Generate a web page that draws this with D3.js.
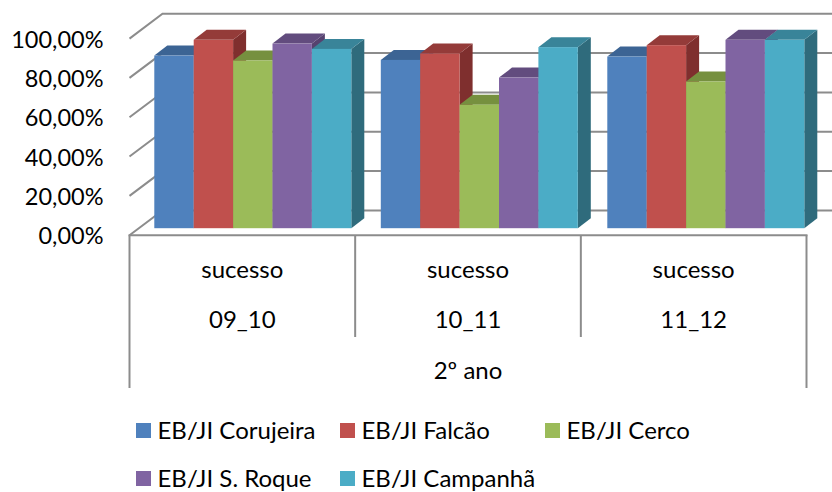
<!DOCTYPE html>
<html><head><meta charset="utf-8">
<script src="https://cdn.jsdelivr.net/npm/d3@7"></script>
<style>html,body{margin:0;padding:0;background:#fff}svg{display:block}text{font-family:Lato,"Open Sans",sans-serif;fill:#000}</style>
</head><body><div id="c"></div>
<script>
const years = ["09_10","10_11","11_12"];
const measure = "sucesso";
const outer = "2º ano";
const series = ["EB/JI Corujeira","EB/JI Falcão","EB/JI Cerco","EB/JI S. Roque","EB/JI Campanhã"];
const corujeira = [87.8,85.6,87.3];
const falcao = [95.8,88.9,93.1];
const cerco = [85.3,62.8,74.6];
const roque = [93.9,76.6,95.8];
const campanha = [91.2,92.1,95.8];
const ticks = [0,20,40,60,80,100];
const colors = ["#4f81bd","#c0504d","#9bbb59","#8064a2","#4bacc6"];
const topColors = ["#3c6494","#943b39","#76903f","#624c7e","#398499"];
const sideColors = ["#345781","#7f2f2e","#66803a","#56426f","#2f6b7c"];

const values = [corujeira,falcao,cerco,roque,campanha];
const W=832,H=492;
const svg=d3.select("#c").append("svg").attr("width",W).attr("height",H);
const FS=24, AXFS=23.5, GRID="#8c8c8c";

// Plot geometry
const y=d3.scaleLinear().domain([0,100]).range([235.2,38.6]);
const x0=d3.scaleBand().domain(years).range([129.5,806.5]);
const wall={dx:33,dy:-24.8};
const bar={dx:13,dy:-10,front:-7};
// bars sit on a slightly wider pitch than the category dividers
const barGroups=d3.scaleBand().domain(years).range([154.3,154.3+3*226.5]);
const barScale=d3.scaleBand().domain(series).range([0,197]);

// walls
const grid=svg.append("g").attr("fill","none").attr("stroke",GRID).attr("stroke-width",2);
ticks.forEach(t=>{
  const yy=y(t);
  grid.append("path").attr("d",`M${x0.range()[0]},${yy}L${x0.range()[0]+wall.dx},${yy+wall.dy}L${W+2},${yy+wall.dy}`);
});
// floor front and category dividers
const sep=svg.append("g").attr("stroke",GRID).attr("stroke-width",2);
sep.append("line").attr("x1",x0.range()[0]-1).attr("x2",x0.range()[1]+1).attr("y1",y(0)).attr("y2",y(0));
const edges=[x0.range()[0],...years.slice(1).map(d=>x0(d)),x0.range()[1]];
edges.forEach((e,i)=>{
  sep.append("line").attr("x1",e).attr("x2",e).attr("y1",y(0))
    .attr("y2",(i===0||i===edges.length-1)?388:337);
});

// bars (drawn left to right so nearer faces overlap)
years.forEach((yr,g)=>{
  series.forEach((s,i)=>{
    const v=values[i][g];
    const l=barGroups(yr)+barScale(s), r=l+barScale.bandwidth();
    const b=y(0)+bar.front, t=y(v)+bar.front;
    const gg=svg.append("g");
    gg.append("path").attr("fill",sideColors[i])
      .attr("d",`M${r},${t}L${r+bar.dx},${t+bar.dy}L${r+bar.dx},${b+bar.dy}L${r},${b}Z`);
    gg.append("path").attr("fill",topColors[i])
      .attr("d",`M${l},${t}L${l+bar.dx},${t+bar.dy}L${r+bar.dx},${t+bar.dy}L${r},${t}Z`);
    gg.append("rect").attr("fill",colors[i]).attr("x",l).attr("y",t).attr("width",r-l).attr("height",b-t);
  });
});

// value axis labels
const axis=d3.axisLeft(y).tickValues(ticks).tickSize(0).tickPadding(0)
  .tickFormat(d=>d3.format(".2f")(d).replace(".",",")+"%");
const ag=svg.append("g").attr("transform","translate(103.5,0)").call(axis);
ag.select(".domain").remove();
ag.selectAll("text").style("font-size",AXFS+"px").attr("dy","0.36em");

// category labels
const cat=svg.append("g").attr("text-anchor","middle").style("font-size",FS+"px");
years.forEach(yr=>{
  const cx=x0(yr)+x0.bandwidth()/2;
  cat.append("text").attr("x",cx).attr("y",278).text(measure);
  cat.append("text").attr("x",cx).attr("y",328).text(yr);
});
cat.append("text").attr("x",(x0.range()[0]+x0.range()[1])/2).attr("y",379).text(outer);

// legend
const legendX=[136,340,545,136,340], legendY=[423,423,423,471,471];
const lg=svg.append("g").style("font-size",FS+"px");
series.forEach((s,i)=>{
  lg.append("rect").attr("x",legendX[i]).attr("y",legendY[i]).attr("width",15).attr("height",15).attr("fill",colors[i]);
  lg.append("text").attr("x",legendX[i]+21.5).attr("y",legendY[i]+16).text(s);
});
</script></body></html>
